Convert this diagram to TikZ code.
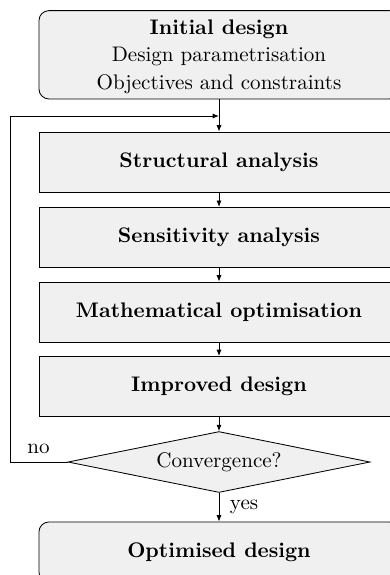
\documentclass[tikz,border=0pt]{standalone}
\usetikzlibrary{shapes.geometric,arrows.meta,calc}
\definecolor{boxfill}{RGB}{240,240,240}
\begin{document}
\begin{tikzpicture}[x=0.4744pt,y=-0.4744pt,
  box/.style={draw, fill=boxfill, line width=0.4pt, minimum width=170.8pt,
    minimum height=28.5pt, font=\bfseries, inner sep=0pt},
  rbox/.style={box, rounded corners=4.7pt},
  decision/.style={diamond, draw, fill=boxfill, line width=0.4pt, aspect=5,
    minimum width=143.3pt, minimum height=28.9pt, inner sep=0pt},
  conn/.style={draw, line width=0.4pt, -{Latex[length=3pt,width=2.4pt]}},
  lbl/.style={inner sep=0pt},
  line/.style={inner sep=0pt, anchor=base}]
\clip (0,0) rectangle (390,575);
\node[rbox, minimum height=41.9pt] (init) at (219,54.8) {};
\node[line, font=\bfseries] (init1) at (219,34) {Initial design};
\node[line] (init2) at (219,61.5) {Design parametrisation};
\node[line] (init3) at (219,89) {Objectives and constraints};
\node[box] (struct) at (219,162) {Structural analysis};
\node[box] (sens) at (219,237.3) {Sensitivity analysis};
\node[box] (math) at (219,312) {Mathematical optimisation};
\node[box] (impr) at (219,386.5) {Improved design};
\node[decision] (conv) at (219,462) {Convergence?};
\node[rbox] (opt) at (219,552) {Optimised design};
\coordinate (fb) at (219,116);
\coordinate (lft) at (10,116);
\draw[conn] (init) -- (struct);
\draw[conn] (struct) -- (sens);
\draw[conn] (sens) -- (math);
\draw[conn] (math) -- (impr);
\draw[conn] (impr) -- (conv);
\draw[conn] (conv) -- node[lbl, right=5pt] (yes) {yes} (opt);
\draw[conn] (conv.west) -- (conv.west -| lft) -- (lft) -- (fb);
\node[lbl, anchor=base west] (no) at (27,453) {no};
\end{tikzpicture}
\end{document}
